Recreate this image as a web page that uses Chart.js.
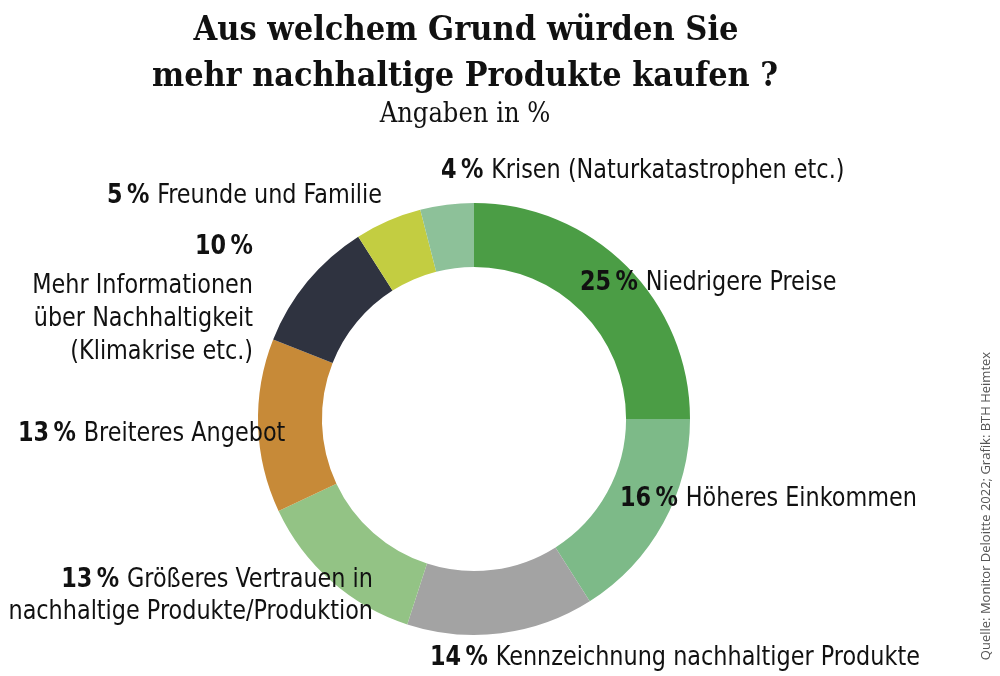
<!DOCTYPE html>
<html>
<head>
<meta charset="utf-8">
<script src="https://cdn.jsdelivr.net/npm/chart.js@4"></script>
<style>
  html, body { margin: 0; padding: 0; background: #fff; }
  #wrap { width: 1000px; height: 676px; position: relative; }
</style>
</head>
<body>
<div id="wrap"><canvas id="chart" width="1000" height="676"></canvas></div>
<script>
// Daten (im Uhrzeigersinn ab 12 Uhr)
const categories = [
    "Niedrigere Preise",
    "Höheres Einkommen",
    "Kennzeichnung nachhaltiger Produkte",
    "Größeres Vertrauen in nachhaltige Produkte/Produktion",
    "Breiteres Angebot",
    "Mehr Informationen über Nachhaltigkeit (Klimakrise etc.)",
    "Freunde und Familie",
    "Krisen (Naturkatastrophen etc.)"
];
const values = [25, 16, 14, 13, 13, 10, 5, 4];
const colors = ["#4b9d45", "#7dba88", "#a3a3a3", "#93c385", "#c78a38", "#2f3340", "#c3cd41", "#8dc199"];

const titleLines = ["Aus welchem Grund würden Sie", "mehr nachhaltige Produkte kaufen ?"];
const subtitle = "Angaben in %";
const source = "Quelle: Monitor Deloitte 2022; Grafik: BTH Heimtex";

// Beschriftungen: Zeilen je Segment (Index in values), Ausrichtung, Position
const labelLayout = [
    { i: 0, align: "left",  x: 580, y: 283, lines: [[true, "Niedrigere Preise"]] },
    { i: 1, align: "left",  x: 620, y: 499, lines: [[true, "Höheres Einkommen"]] },
    { i: 2, align: "left",  x: 430, y: 658, lines: [[true, "Kennzeichnung nachhaltiger Produkte"]] },
    { i: 3, align: "right", x: 373, y: 580, lines: [[true, "Größeres Vertrauen in"], [false, "nachhaltige Produkte/Produktion"]] },
    { i: 4, align: "left",  x: 18,  y: 434, lines: [[true, "Breiteres Angebot"]] },
    { i: 5, align: "right", x: 253, y: 247, lines: [[true, ""], [false, "Mehr Informationen"], [false, "über Nachhaltigkeit"], [false, "(Klimakrise etc.)"]], lineGap: [0, 39, 33, 33] },
    { i: 6, align: "left",  x: 107, y: 196, lines: [[true, "Freunde und Familie"]] },
    { i: 7, align: "left",  x: 441, y: 171, lines: [[true, "Krisen (Naturkatastrophen etc.)"]] }
];

const labelFont = '"Liberation Sans Narrow", "DejaVu Sans Condensed", sans-serif';
const titleFont = '"DejaVu Serif Condensed", "DejaVu Serif", serif';
const squeeze = 0.92; // schmale Schrift nachbilden

const textPlugin = {
    id: "texts",
    afterDraw(chart) {
        const c = chart.ctx;
        c.save();
        c.fillStyle = "#111";
        c.textAlign = "center";
        c.textBaseline = "alphabetic";

        // Titel
        c.font = "bold 34px " + titleFont;
        c.fillText(titleLines[0], 466, 40, 548);
        c.fillText(titleLines[1], 465, 86, 626);
        c.font = "27px " + titleFont;
        c.fillText(subtitle, 465, 122, 180);

        // Segmentbeschriftungen
        c.textBaseline = "middle";
        c.textAlign = "left";
        labelLayout.forEach(l => {
            l.lines.forEach((ln, k) => {
                let y;
                if (l.lineGap) y = l.y + l.lineGap.slice(0, k + 1).reduce((a, b) => a + b, 0);
                else y = l.y + k * 32;
                const pct = ln[0] ? values[l.i] + "\u2009%" : "";
                const txt = ln[1];
                c.font = "bold 27px " + labelFont;
                const wPct = pct ? c.measureText(pct + (txt ? " " : "")).width : 0;
                c.font = "27px " + labelFont;
                const wTxt = c.measureText(txt).width;
                const total = (wPct + wTxt) * squeeze;
                const x0 = l.align === "left" ? l.x : l.x - total;
                c.save();
                c.translate(x0, y);
                c.scale(squeeze, 1);
                if (pct) {
                    c.font = "bold 27px " + labelFont;
                    c.fillText(pct, 0, 0);
                }
                c.font = "27px " + labelFont;
                c.fillText(txt, wPct, 0);
                c.restore();
            });
        });

        // Quelle (senkrecht)
        c.translate(986, 506);
        c.rotate(-Math.PI / 2);
        c.textAlign = "center";
        c.fillStyle = "#555";
        c.font = '13px "Open Sans", sans-serif';
        c.fillText(source, 0, 0);
        c.restore();
    }
};

new Chart(document.getElementById("chart").getContext("2d"), {
    type: "doughnut",
    data: {
        labels: categories,
        datasets: [{
            data: values,
            backgroundColor: colors,
            borderWidth: 0
        }]
    },
    options: {
        responsive: false,
        animation: false,
        cutout: "70.4%",
        layout: { padding: { left: 258, right: 310, top: 203, bottom: 41 } },
        plugins: {
            legend: { display: false },
            tooltip: { enabled: false }
        }
    },
    plugins: [textPlugin]
});
</script>
</body>
</html>
